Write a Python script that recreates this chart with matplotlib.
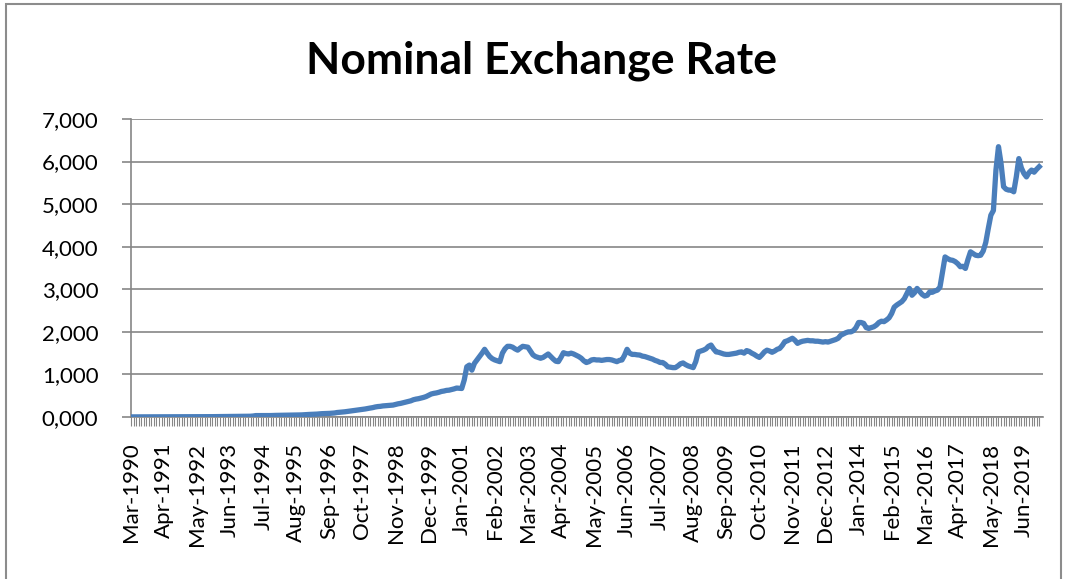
import numpy as np
import pandas as pd
import matplotlib
matplotlib.use("Agg")
import matplotlib.pyplot as plt
from matplotlib.patches import Rectangle

plt.rcParams['font.family'] = ['Lato', 'DejaVu Sans']

# Taux de change nominal, données mensuelles (Mar-1990 -> Dec-2019)
y1990 = [0.0026, 0.0027, 0.0027, 0.0027, 0.0027, 0.0028, 0.0028, 0.0029, 0.0029, 0.0029]
y1991 = [0.0030, 0.0031, 0.0033, 0.0036, 0.0039, 0.0041, 0.0043, 0.0045, 0.0047, 0.0049, 0.0051, 0.0053]
y1992 = [0.0055, 0.0058, 0.0061, 0.0064, 0.0066, 0.0068, 0.0069, 0.0070, 0.0073, 0.0077, 0.0082, 0.0087]
y1993 = [0.0090, 0.0093, 0.0097, 0.0101, 0.0105, 0.0109, 0.0113, 0.0117, 0.0122, 0.0127, 0.0132, 0.0140]
y1994 = [0.0155, 0.0180, 0.0230, 0.0330, 0.0330, 0.0320, 0.0310, 0.0320, 0.0330, 0.0340, 0.0370, 0.0380]
y1995 = [0.0390, 0.0410, 0.0420, 0.0430, 0.0430, 0.0440, 0.0450, 0.0460, 0.0470, 0.0490, 0.0530, 0.0590]
y1996 = [0.0600, 0.0620, 0.0650, 0.0680, 0.0730, 0.0780, 0.0800, 0.0820, 0.0850, 0.0890, 0.0940, 0.1050]
y1997 = [0.1100, 0.1150, 0.1220, 0.1300, 0.1380, 0.1450, 0.1530, 0.1600, 0.1700, 0.1780, 0.1880, 0.2000]
y1998 = [0.2100, 0.2200, 0.2350, 0.2450, 0.2500, 0.2600, 0.2650, 0.2700, 0.2750, 0.2800, 0.2950, 0.3100]
y1999 = [0.3200, 0.3350, 0.3500, 0.3650, 0.3800, 0.4050, 0.4200, 0.4300, 0.4450, 0.4600, 0.4800, 0.5100]
y2000 = [0.5400, 0.5550, 0.5650, 0.5800, 0.6000, 0.6100, 0.6250, 0.6300, 0.6450, 0.6600, 0.6800, 0.6750]
y2001 = [0.67, 0.87, 1.18, 1.22, 1.10, 1.26, 1.34, 1.42, 1.50, 1.59, 1.50, 1.42]
y2002 = [1.37, 1.34, 1.32, 1.30, 1.50, 1.60, 1.66, 1.66, 1.64, 1.60, 1.57, 1.62]
y2003 = [1.66, 1.65, 1.64, 1.55, 1.46, 1.42, 1.40, 1.38, 1.40, 1.44, 1.48, 1.42]
y2004 = [1.36, 1.31, 1.30, 1.40, 1.51, 1.49, 1.48, 1.50, 1.48, 1.45, 1.42, 1.38]
y2005 = [1.32, 1.28, 1.30, 1.34, 1.35, 1.34, 1.34, 1.33, 1.34, 1.35, 1.35, 1.34]
y2006 = [1.32, 1.30, 1.33, 1.34, 1.45, 1.59, 1.50, 1.47, 1.47, 1.46, 1.455, 1.43]
y2007 = [1.42, 1.40, 1.38, 1.36, 1.33, 1.31, 1.28, 1.28, 1.24, 1.18, 1.17, 1.16]
y2008 = [1.16, 1.20, 1.25, 1.27, 1.23, 1.20, 1.18, 1.16, 1.30, 1.53, 1.55, 1.57]
y2009 = [1.60, 1.66, 1.69, 1.60, 1.53, 1.52, 1.50, 1.48, 1.47, 1.47, 1.48, 1.49]
y2010 = [1.50, 1.52, 1.53, 1.50, 1.56, 1.54, 1.50, 1.47, 1.43, 1.40, 1.46, 1.53]
y2011 = [1.57, 1.55, 1.52, 1.55, 1.59, 1.61, 1.68, 1.77, 1.79, 1.82, 1.85, 1.80]
y2012 = [1.73, 1.76, 1.78, 1.79, 1.80, 1.79, 1.79, 1.78, 1.78, 1.77, 1.76, 1.77]
y2013 = [1.76, 1.78, 1.80, 1.82, 1.85, 1.92, 1.95, 1.98, 2.00, 2.00, 2.03, 2.10]
y2014 = [2.22, 2.22, 2.20, 2.10, 2.08, 2.10, 2.12, 2.16, 2.22, 2.25, 2.24, 2.28]
y2015 = [2.33, 2.43, 2.58, 2.63, 2.67, 2.71, 2.78, 2.90, 3.02, 2.86, 2.92, 3.02]
y2016 = [2.95, 2.88, 2.84, 2.86, 2.94, 2.93, 2.96, 2.98, 3.05, 3.40, 3.76, 3.72]
y2017 = [3.69, 3.68, 3.65, 3.60, 3.53, 3.54, 3.49, 3.70, 3.88, 3.84, 3.80, 3.79]
y2018 = [3.80, 3.90, 4.10, 4.43, 4.74, 4.85, 5.80, 6.35, 5.96, 5.41, 5.35, 5.33]
y2019 = [5.33, 5.29, 5.64, 6.07, 5.85, 5.72, 5.64, 5.74, 5.80, 5.75, 5.82, 5.88]

rate = np.array(y1990 + y1991 + y1992 + y1993 + y1994 + y1995 + y1996 + y1997
                + y1998 + y1999 + y2000 + y2001 + y2002 + y2003 + y2004 + y2005
                + y2006 + y2007 + y2008 + y2009 + y2010 + y2011 + y2012 + y2013
                + y2014 + y2015 + y2016 + y2017 + y2018 + y2019)
months = pd.date_range('1990-03-01', periods=len(rate), freq='MS')
month_labels = [d.strftime('%b-%Y') for d in months]

W, H = 1067, 579
fig = plt.figure(figsize=(W / 100, H / 100), dpi=100)
ax = fig.add_axes([131 / W, (H - 417) / H, 912 / W, 298 / H])

grey = '#868686'
x = np.arange(len(rate))
ax.plot(x, rate, color='#4A7EBB', lw=3.8, solid_joinstyle='round', zorder=3)

ax.set_xlim(0, 358.5)
ax.set_ylim(0, 7)
ax.set_yticks(np.arange(0, 8, 1))
ax.set_yticklabels([f"{v:.3f}".replace('.', ',') for v in np.arange(0, 8, 1)])
ax.grid(axis='y', color=grey, lw=1.2)
ax.set_axisbelow(True)

ax.set_xticks(x[::13])
ax.set_xticklabels(month_labels[::13], rotation=90)
ax.set_xticks(x, minor=True)

for s in ['top', 'right']:
    ax.spines[s].set_visible(False)
for s in ['left', 'bottom']:
    ax.spines[s].set_color(grey)
    ax.spines[s].set_linewidth(1.2)

ax.tick_params(axis='y', which='major', length=6.5, width=1.2, color=grey,
               labelsize=16, pad=17)
ax.tick_params(axis='x', which='both', length=6.5, width=0.8, color=grey,
               labelsize=16, pad=12)

fig.text(541 / W, 1 - 74 / H, 'Nominal Exchange Rate', ha='center',
         va='baseline', fontsize=32, fontweight='bold')

# bordure du graphique
fig.patches.append(Rectangle((6 / W, -0.02), 1055 / W, 1.02 - 4 / H,
                             transform=fig.transFigure, fill=False,
                             edgecolor='#8c8c8c', lw=1.5))

fig.savefig('out.png', dpi=100)
